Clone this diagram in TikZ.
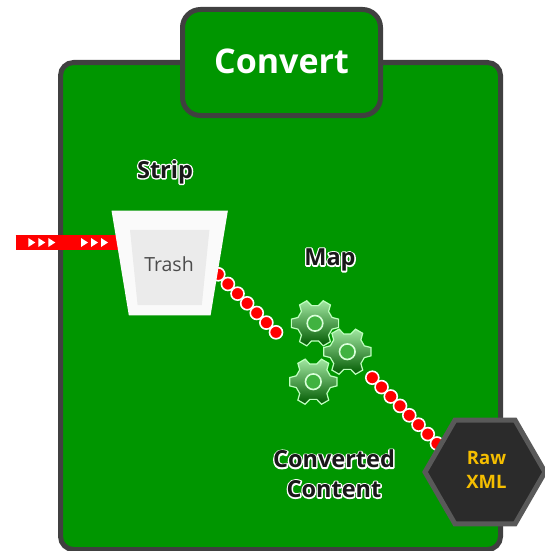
\documentclass[tikz,border=0pt]{standalone}
\usepackage{xcolor}
\usepackage{fontspec}
\setmainfont{Open Sans}
\usepackage{tikz}
\usetikzlibrary{positioning, backgrounds, calc, shapes.geometric}

\definecolor{panelgreen}{RGB}{0,150,0}
\definecolor{edgegrey}{RGB}{64,64,64}
\definecolor{rawgold}{RGB}{245,190,0}
\newcommand{\halotext}[1]{\rlap{\special{pdf:code 1 1 1 RG 1 j 2.8 w 2 Tr}#1\special{pdf:code 0 Tr}}#1}

\begin{document}
\begin{tikzpicture}[
    x=1pt, y=-1pt,
    node distance=8pt,
    panel/.style={rectangle, rounded corners=13pt, minimum width=440pt, minimum height=487pt, draw=edgegrey, line width=5pt, fill=panelgreen},
    tabbox/.style={rectangle, rounded corners=18pt, minimum width=198pt, minimum height=106pt, draw=edgegrey, line width=5pt, fill=panelgreen, text=white, font=\fontsize{34}{40}\selectfont\bfseries},
    bucket/.style={rectangle, minimum width=116pt, minimum height=104.3pt, inner sep=0pt},
    bin/.style={rectangle, minimum width=79pt, minimum height=75pt, inner sep=0pt},
    trashtext/.style={text=black!70, inner sep=0pt, font=\fontsize{19.5}{22}\selectfont},
    band/.style={draw=red, line width=15pt},
    dot/.style={circle, minimum size=13pt, inner sep=0pt, draw=white, line width=1.6pt, fill=red},
    caption/.style={text=black!90, inner sep=0pt, font=\fontsize{23.5}{28}\selectfont\bfseries},
    rawbox/.style={regular polygon, regular polygon sides=6, minimum size=120pt, inner sep=0pt, draw=black!65, line width=5pt, fill=black!83, text=rawgold, align=center, font=\fontsize{18.5}{24}\selectfont\bfseries},
    gear/.pic={
        \draw [white!75!green, line width=1.2pt, top color=green!30!white!90!black, bottom color=green!35!black]
            (-10:24) \foreach \a in {0,60,...,300} {
                -- (\a-10:24) -- (\a+10:24) -- (\a+19:18) -- (\a+41:18)
            } -- cycle;
        \draw [white!85!green, line width=1.6pt, fill=green!60!black!75!white] (0,0) circle (7.8);
    }
]

\coordinate (bandin) at (15.7,242.5);
\coordinate (dotsA) at (218.3,274.3);
\coordinate (dotsB) at (276,332.3);
\coordinate (dotsC) at (372.3,377.7);
\coordinate (dotsD) at (437,443.5);
\useasboundingbox (0,0) rectangle (545,551);

\foreach \i in {0,...,6} \node (dotA\i) [dot] at ($(dotsA)!\i/6!(dotsB)$) {};
\foreach \i in {0,...,7} \node (dotB\i) [dot] at ($(dotsC)!\i/7!(dotsD)$) {};

\node (strip) [bucket] at (169.7,262.9) {};
\node (bin) [bin] at (169.7,267.5) {};
\fill [white!98!black] (strip.north west) -- (strip.north east) -- ($(strip.south east)+(-17.3,0)$) -- ($(strip.south west)+(17.3,0)$) -- cycle;
\fill [black!8] (bin.north west) -- (bin.north east) -- ($(bin.south east)+(-7.6,0)$) -- ($(bin.south west)+(7.6,0)$) -- cycle;
\node (trash) [trashtext] at (169,264) {Trash};

\node (stripcap) [caption] at (165,172) {\halotext{Strip}};
\node (mapcap) [caption] at (330,260) {\halotext{Map}};
\node (convcap) [caption] at (334,459) {\halotext{Converted}};
\node (contcap) [caption, below=12pt of convcap] {\halotext{Content}};

\pic (gearA) at (315,323.3) {gear};
\pic (gearC) at (313.3,381.7) {gear};
\pic (gearB) at (347.3,351.7) {gear};

\node (raw) [rawbox] at (485,472) {\raisebox{2pt}{\hspace{3pt}\begin{tabular}{@{}c@{}}Raw\\XML\end{tabular}}};

\begin{scope}[on background layer]
\node (frame) [panel] at (280.5,306) {};
\node (tab) [tabbox] at (281.5,62.5) {\raisebox{3pt}{Convert}};
\draw [band] (bandin) -- (bandin -| strip);
\foreach \x in {28.3,38.3,48.3,81,91,101}
    \fill [white] (\x,238) -- ++(7,4.5) -- ++(-7,4.5) -- cycle;
\end{scope}

\end{tikzpicture}
\end{document}
